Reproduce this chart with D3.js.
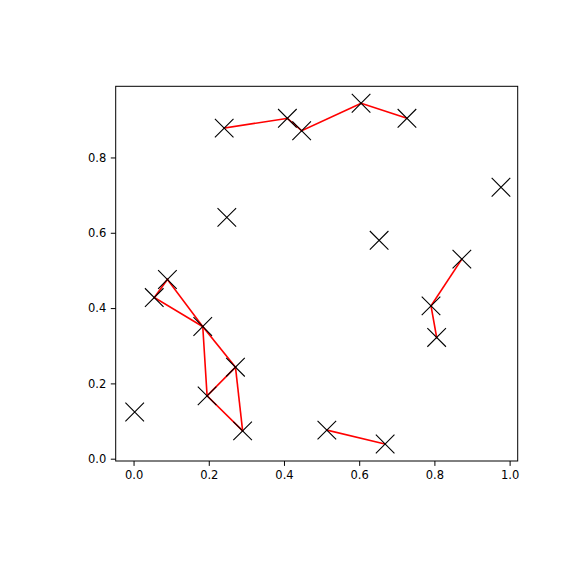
<!DOCTYPE html>
<html>
<head>
<meta charset="utf-8">
<script src="https://cdn.jsdelivr.net/npm/d3@7"></script>
<style>
  html, body { margin: 0; padding: 0; background: #fff; }
  svg { display: block; }
  text { font-family: "DejaVu Sans", sans-serif; }
</style>
</head>
<body>
<svg id="chart" width="576" height="576"></svg>
<script>
// Point data
const xs = [0.003, 0.241, 0.409, 0.447, 0.605, 0.727, 0.977, 0.248, 0.653,
            0.090, 0.055, 0.184, 0.873, 0.791, 0.806, 0.271, 0.1955, 0.290, 0.514, 0.669];
const ys = [0.124, 0.878, 0.904, 0.871, 0.944, 0.904, 0.721, 0.641, 0.580,
            0.476, 0.428, 0.351, 0.530, 0.406, 0.322, 0.243, 0.167, 0.074, 0.076, 0.039];
// Edges (pairs of point indices)
const edges = [[1,2],[2,3],[3,4],[4,5],
               [9,10],[9,11],[10,11],[11,15],[11,16],[16,15],[15,17],[16,17],
               [12,13],[13,14],
               [18,19]];
const xTicks = [0.0, 0.2, 0.4, 0.6, 0.8, 1.0];
const yTicks = [0.0, 0.2, 0.4, 0.6, 0.8];
const xDomain = [-0.0475, 1.0215];
const yDomain = [-0.0061, 0.989];

const svg = d3.select("#chart");
const L = 115.7, R = 517.7, T = 86.3, B = 461;

const x = d3.scaleLinear().domain(xDomain).range([L, R]);
const y = d3.scaleLinear().domain(yDomain).range([B, T]);

// Edges
svg.append("g").selectAll("line").data(edges).join("line")
  .attr("x1", d => x(xs[d[0]])).attr("y1", d => y(ys[d[0]]))
  .attr("x2", d => x(xs[d[1]])).attr("y2", d => y(ys[d[1]]))
  .attr("stroke", "#ff0000").attr("stroke-width", 1.6)
  .attr("stroke-linecap", "square");

// Markers (x)
const ms = 9.3;
const pts = d3.range(xs.length);
const mk = svg.append("g").selectAll("path").data(pts).join("path")
  .attr("d", i => {
    const cx = x(xs[i]), cy = y(ys[i]);
    return `M${cx-ms},${cy-ms}L${cx+ms},${cy+ms}M${cx-ms},${cy+ms}L${cx+ms},${cy-ms}`;
  })
  .attr("stroke", "#000").attr("stroke-width", 1.1).attr("fill", "none");

// Axes
const xAxis = d3.axisBottom(x).tickValues(xTicks).tickFormat(d3.format(".1f"))
  .tickSize(4.9).tickPadding(4.5);
const yAxis = d3.axisLeft(y).tickValues(yTicks).tickFormat(d3.format(".1f"))
  .tickSize(4.9).tickPadding(4.5);

const gx = svg.append("g").attr("transform", `translate(0,${B})`).call(xAxis);
const gy = svg.append("g").attr("transform", `translate(${L},0)`).call(yAxis);
[gx, gy].forEach(g => {
  g.select(".domain").remove();
  g.selectAll(".tick line").attr("stroke", "#000").attr("stroke-width", 1);
  g.selectAll(".tick text").attr("fill", "#000").style("font-size", "11.5px")
    .style("font-family", "DejaVu Sans, sans-serif");
});

// Spines
svg.append("rect").attr("x", L).attr("y", T).attr("width", R - L).attr("height", B - T)
  .attr("fill", "none").attr("stroke", "#000").attr("stroke-width", 1);
</script>
</body>
</html>
